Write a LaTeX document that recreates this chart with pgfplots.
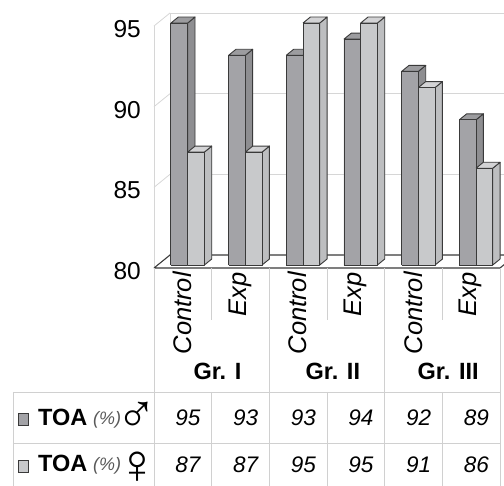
\documentclass[border=0pt]{standalone}
\usepackage{pgfplots}
\pgfplotsset{compat=1.18}
\usepackage{fontspec}
\setmainfont{Liberation Sans}
\newfontfamily\symfont{Liberation Sans}
\definecolor{dkF}{HTML}{A3A3A7}
\definecolor{dkS}{HTML}{8E8E91}
\definecolor{dkT}{HTML}{9C9C9F}
\definecolor{ltF}{HTML}{C8C9CB}
\definecolor{ltS}{HTML}{BDBEC0}
\definecolor{ltT}{HTML}{D3D3D5}
\definecolor{edge}{HTML}{3A3A3A}
\definecolor{gridc}{HTML}{D6D6D6}
\definecolor{tabc}{HTML}{D0D0D0}
% cuboid: x0, x1, value, front, side, top
\newcommand{\cuboid}[6]{%
\addplot3[fill=#5,draw=edge,line width=0.9pt,line join=round] coordinates {(#2,0.23,80) (#2,0.69,80) (#2,0.69,#3) (#2,0.23,#3) (#2,0.23,80)};
\addplot3[fill=#6,draw=edge,line width=0.9pt,line join=round] coordinates {(#1,0.23,#3) (#2,0.23,#3) (#2,0.69,#3) (#1,0.69,#3) (#1,0.23,#3)};
\addplot3[fill=#4,draw=edge,line width=0.9pt,line join=round] coordinates {(#1,0.23,80) (#2,0.23,80) (#2,0.23,#3) (#1,0.23,#3) (#1,0.23,80)};
}
\newcommand{\darkbar}[3]{\cuboid{#1}{#2}{#3}{dkF}{dkS}{dkT}}
\newcommand{\lightbar}[3]{\cuboid{#1}{#2}{#3}{ltF}{ltS}{ltT}}
\begin{document}
\begin{tikzpicture}
\begin{axis}[hide axis, clip=false,
  x={(57.67pt,0pt)}, y={(16pt,13pt)}, z={(0pt,16.133pt)},
  xmin=-0.5, xmax=5.5, ymin=0, ymax=1, zmin=80, zmax=95]
% back wall gridlines
\addplot3[gridc,line width=0.8pt] coordinates {(-0.5,1,85) (5.5,1,85)};
\addplot3[gridc,line width=0.8pt] coordinates {(-0.5,1,90) (5.5,1,90)};
\addplot3[gridc,line width=0.8pt] coordinates {(-0.5,1,95) (5.5,1,95)};
% left wall
\addplot3[gridc,line width=0.8pt] coordinates {(-0.5,0,85) (-0.5,1,85)};
\addplot3[gridc,line width=0.8pt] coordinates {(-0.5,0,90) (-0.5,1,90)};
\addplot3[gridc,line width=0.8pt] coordinates {(-0.5,0,95) (-0.5,1,95)};
\addplot3[gridc,line width=0.8pt] coordinates {(-0.5,0,80) (-0.5,0,95)};
\addplot3[gridc,line width=0.8pt] coordinates {(-0.5,1,80) (-0.5,1,95)};
% floor
\addplot3[draw=edge,line width=1.1pt,fill=white] coordinates {(-0.5,0,80) (5.5,0,80) (5.5,1,80) (-0.5,1,80) (-0.5,0,80)};
% bars: dark = TOA male, light = TOA female
\darkbar{-0.27}{0.02}{95}  \lightbar{0.02}{0.31}{87}
\darkbar{0.73}{1.02}{93}   \lightbar{1.02}{1.31}{87}
\darkbar{1.73}{2.02}{93}   \lightbar{2.02}{2.31}{95}
\darkbar{2.73}{3.02}{94}   \lightbar{3.02}{3.31}{95}
\darkbar{3.73}{4.02}{92}   \lightbar{4.02}{4.31}{91}
\darkbar{4.73}{5.02}{89}   \lightbar{5.02}{5.31}{86}
% y tick labels
\foreach \v in {80,85,90,95}{
  \edef\tmp{\noexpand\node[anchor=east,font=\noexpand\fontsize{24.5}{28}\noexpand\selectfont,inner sep=0pt,xshift=-13pt,yshift=-3pt] at (axis cs:-0.5,0,\v) {\v};}
  \tmp
}
\coordinate (O) at (axis cs:-0.5,0,80);
\end{axis}
\begin{scope}[shift={(O)}, x=1pt, y=1pt]
% table lines
\draw[tabc,line width=0.8pt] (0,0) -- (0,-230);
\foreach \X in {115.33,230.67,346}{\draw[tabc,line width=0.8pt] (\X,0) -- (\X,-230);}
\foreach \X in {57.67,173,288.33}{
  \draw[tabc,line width=0.8pt] (\X,0) -- (\X,-52);
  \draw[tabc,line width=0.8pt] (\X,-124) -- (\X,-230);}
\draw[tabc,line width=0.8pt] (-141,-124) -- (346,-124);
\draw[tabc,line width=0.8pt] (-141,-175) -- (346,-175);
\draw[tabc,line width=0.8pt] (-141,-124) -- (-141,-230);
% category labels
\foreach \c/\t in {0/Control,1/Exp,2/Control,3/Exp,4/Control,5/Exp}{
  \node[rotate=90,anchor=east,inner sep=0pt,font=\fontsize{25.5}{28}\selectfont\itshape] at ({28.3+57.67*\c},-4) {\t};}
% group labels
\foreach \g/\t in {0/Gr. I,1/Gr. II,2/Gr. III}{
  \node[anchor=base,inner sep=0pt,font=\fontsize{23.5}{28}\selectfont\bfseries] at ({63.5+115.33*\g},-112) {\t};}
% row labels
\draw[edge,fill=dkF,line width=0.7pt] (-136,-145) rectangle (-126,-157);
\draw[edge,fill=ltF,line width=0.7pt] (-136,-192) rectangle (-126,-204);
\node[anchor=base west,inner sep=0pt,font=\fontsize{23.5}{28}\selectfont\bfseries] at (-116,-158) {TOA};
\node[anchor=base west,inner sep=0pt,font=\fontsize{23.5}{28}\selectfont\bfseries] at (-116,-204) {TOA};
\node[anchor=base west,inner sep=0pt,text=black!65,font=\fontsize{18}{22}\selectfont\itshape] at (-61,-157) {(\%)};
\node[anchor=base west,inner sep=0pt,text=black!65,font=\fontsize{18}{22}\selectfont\itshape] at (-61,-203) {(\%)};
\node[anchor=center,inner sep=0pt,font=\fontsize{54}{58}\selectfont\symfont] at (-17,-149) {♂};
\node[anchor=center,inner sep=0pt,font=\fontsize{56}{60}\selectfont\symfont] at (-16.5,-200) {♀};
% values
\foreach \i/\a/\b in {0/95/87,1/93/87,2/93/95,3/94/95,4/92/91,5/89/86}{
  \node[anchor=base east,inner sep=0pt,font=\fontsize{22.5}{26}\selectfont\itshape] at ({57.67*(\i+1)-11},-158) {\a};
  \node[anchor=base east,inner sep=0pt,font=\fontsize{22.5}{26}\selectfont\itshape] at ({57.67*(\i+1)-11},-205) {\b};}
\end{scope}
\pgfresetboundingbox
\path[use as bounding box] ([shift={(-154pt,-218pt)}]O) rectangle ([shift={(350pt,268pt)}]O);
\end{tikzpicture}
\end{document}
